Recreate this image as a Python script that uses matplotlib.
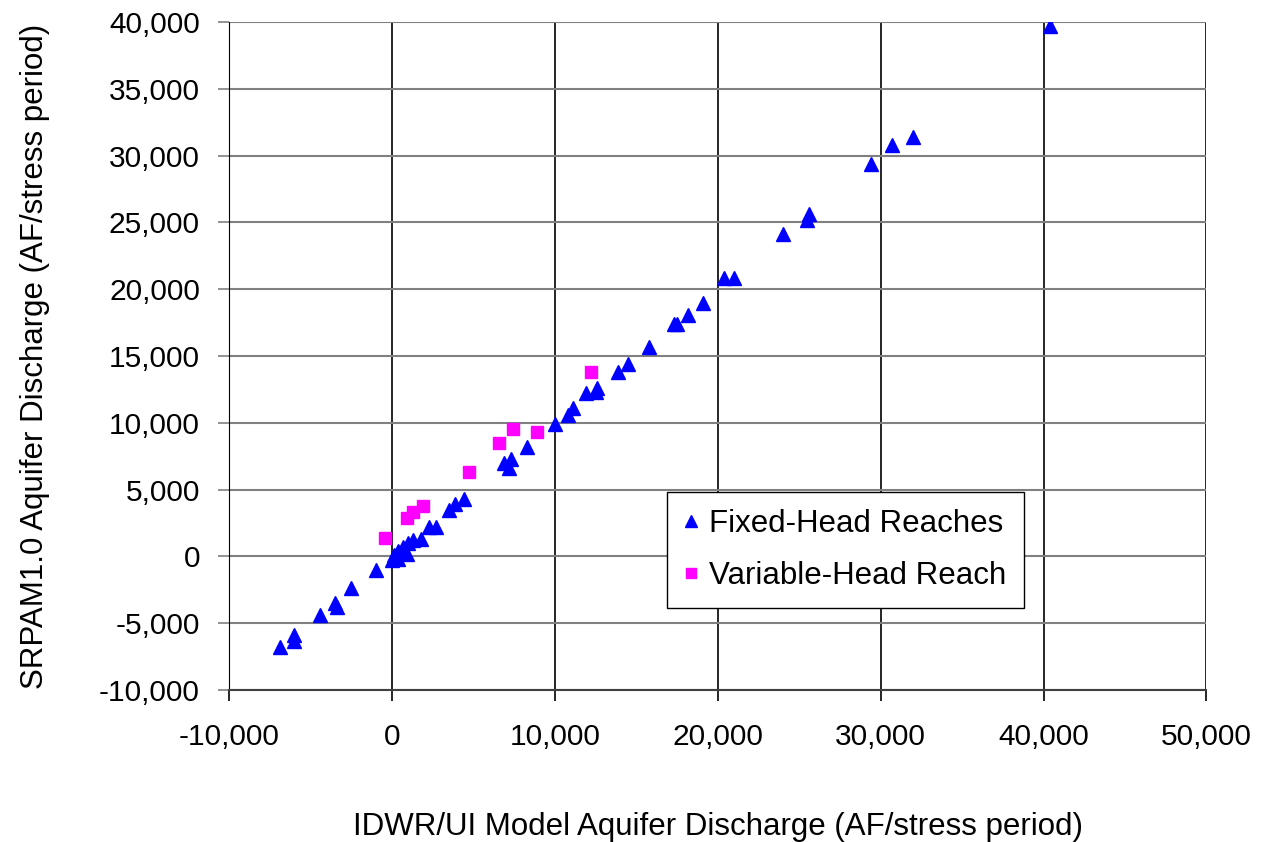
import matplotlib
matplotlib.use("Agg")
import matplotlib.pyplot as plt
from matplotlib.ticker import FuncFormatter, MultipleLocator

plt.rcParams["font.family"] = ["Liberation Sans", "DejaVu Sans"]

# Fixed-head reaches (IDWR/UI model vs SRPAM1.0), AF/stress period
fixed_x = [40400, 29400, 30700, 32000, 25600, 25500, 24000,
           20400, 21000, 19100, 18200, 17300, 17500, 15800, 14500, 13900,
           12600, 12500, 11900, 11100, 10800, 10000,
           8300, 7300, 6900, 7200, 4400, 3900, 3500,
           2700, 2300, 1800, 1300, 1000,
           700, 400, 100, 0, 400, 900,
           -1000, -2500, -3500, -3400, -4400, -6000, -6000, -6900]
fixed_y = [39700, 29400, 30800, 31400, 25600, 25200, 24100,
           20800, 20800, 19000, 18100, 17400, 17400, 15700, 14400, 13800,
           12600, 12300, 12200, 11100, 10600, 9900,
           8200, 7300, 7000, 6600, 4300, 3900, 3500,
           2200, 2200, 1300, 1200, 1000,
           700, 400, 100, -300, -200, 200,
           -1000, -2400, -3500, -3800, -4400, -5900, -6300, -6800]

# Variable-head reach
var_x = [12200, 7400, 8900, 6600, 4700, 1900, 1300, 900, -400]
var_y = [13800, 9500, 9300, 8500, 6300, 3800, 3300, 2900, 1400]

fig = plt.figure(figsize=(12.62, 8.42), dpi=100)
ax = fig.add_axes([0.1815, 0.1805, 0.7745, 0.7935])

ax.plot(fixed_x, fixed_y, linestyle="none", marker="^", markersize=10.5,
        color="#0000ff", markeredgecolor="#0000ff", label="Fixed-Head Reaches", zorder=3)
ax.plot(var_x, var_y, linestyle="none", marker="s", markersize=9,
        color="#ff00ff", markeredgecolor="#ff00ff", label="Variable-Head Reach", zorder=3)

ax.set_xlim(-10000, 50000)
ax.set_ylim(-10000, 40000)
ax.xaxis.set_major_locator(MultipleLocator(10000))
ax.yaxis.set_major_locator(MultipleLocator(5000))
fmt = FuncFormatter(lambda v, p: f"{int(round(v)):,}")
ax.xaxis.set_major_formatter(fmt)
ax.yaxis.set_major_formatter(fmt)

ax.grid(axis="y", color="#808080", linewidth=1.5)
ax.grid(axis="x", color="black", linewidth=1.2)
ax.set_axisbelow(True)

for s in ["top", "right"]:
    ax.spines[s].set_visible(False)
ax.spines["left"].set_color("black")
ax.spines["bottom"].set_color("#404040")
ax.spines["bottom"].set_linewidth(1.5)

ax.tick_params(axis="both", labelsize=21.5, length=8, width=1.2, direction="out")
ax.tick_params(axis="y", color="#808080", pad=13)
ax.tick_params(axis="x", pad=16)

ax.set_xlabel("IDWR/UI Model Aquifer Discharge (AF/stress period)", fontsize=22.5, labelpad=44)
ax.set_ylabel("SRPAM1.0 Aquifer Discharge (AF/stress period)", fontsize=22.5, labelpad=35)

leg = ax.legend(loc="lower left", bbox_to_anchor=(0.448, 0.123), borderaxespad=0,
                fontsize=22.5, frameon=True, fancybox=False, edgecolor="black",
                framealpha=1, handletextpad=0.35, handlelength=0.45, labelspacing=0.7,
                borderpad=0.55, markerscale=0.8)
leg.get_frame().set_linewidth(1.0)

fig.savefig("out.png", dpi=100)
